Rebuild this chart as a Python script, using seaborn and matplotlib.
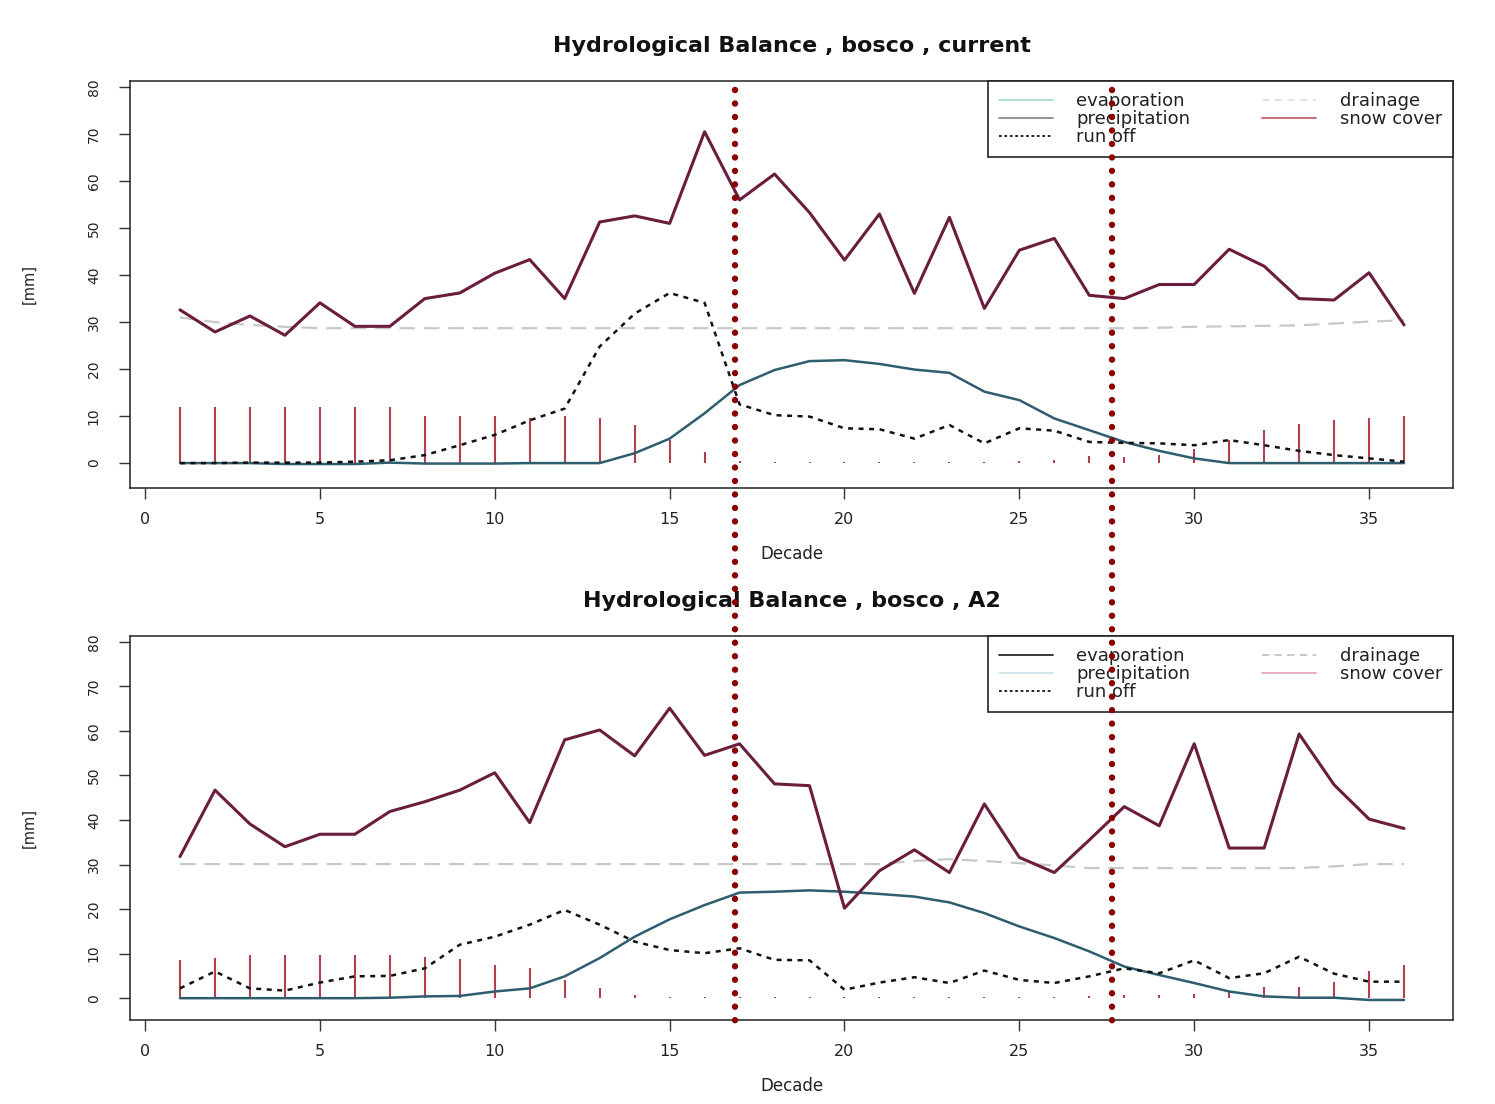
import matplotlib
matplotlib.use("Agg")
import matplotlib.pyplot as plt
import seaborn as sns
import pandas as pd
from matplotlib.lines import Line2D
from matplotlib.transforms import blended_transform_factory

# ---------------- data ----------------
decades = list(range(1, 37))
x_ticks = [0, 5, 10, 15, 20, 25, 30, 35]
y_ticks = [0, 10, 20, 30, 40, 50, 60, 70, 80]
series_names = ["evaporation", "precipitation", "run off", "drainage", "snow cover"]

cur_precip = [32.6, 27.9, 31.3, 27.2, 34.1, 29.1, 29.1, 35.0, 36.2, 40.4, 43.3, 35.0,
              51.3, 52.6, 51.0, 70.5, 56.0, 61.5, 53.3, 43.2, 53.0, 36.1, 52.3, 32.9,
              45.3, 47.8, 35.7, 35.0, 38.0, 38.0, 45.5, 41.9, 35.0, 34.7, 40.5, 29.4]
cur_evap = [0.0, 0.0, 0.0, -0.2, -0.2, -0.2, 0.1, -0.1, -0.1, -0.1, 0.0, 0.0,
            0.0, 2.1, 5.2, 10.6, 16.6, 19.8, 21.7, 21.9, 21.1, 19.9, 19.2, 15.2,
            13.4, 9.5, 7.0, 4.5, 2.6, 1.0, 0.0, 0.0, 0.0, 0.0, 0.0, 0.0]
cur_runoff = [0.0, 0.0, 0.1, 0.1, 0.1, 0.3, 0.6, 1.7, 3.8, 6.0, 9.1, 11.6,
              24.8, 31.8, 36.2, 34.1, 12.5, 10.2, 9.9, 7.4, 7.2, 5.2, 8.1, 4.2,
              7.4, 6.9, 4.5, 4.3, 4.2, 3.8, 4.9, 3.8, 2.6, 1.7, 1.0, 0.3]
cur_drainage = [31.0, 30.0, 29.4, 29.0, 28.7, 28.7, 28.7, 28.7, 28.7, 28.7, 28.7, 28.7,
                28.7, 28.7, 28.7, 28.7, 28.7, 28.7, 28.7, 28.7, 28.7, 28.7, 28.7, 28.7,
                28.7, 28.7, 28.7, 28.7, 28.8, 29.0, 29.1, 29.2, 29.3, 29.7, 30.1, 30.4]
cur_snow = [12.0, 12.0, 12.0, 12.0, 12.0, 12.0, 12.0, 10.0, 10.0, 10.0, 9.6, 10.0,
            9.6, 8.1, 4.9, 2.4, 0.4, 0.3, 0.3, 0.3, 0.3, 0.3, 0.3, 0.3,
            0.4, 0.6, 1.5, 1.3, 1.7, 3.1, 4.9, 7.0, 8.4, 9.1, 9.7, 10.0]

a2_precip = [31.8, 46.7, 39.1, 34.0, 36.8, 36.8, 41.9, 44.1, 46.7, 50.6, 39.4, 58.0,
             60.2, 54.4, 65.1, 54.5, 57.1, 48.1, 47.7, 20.2, 28.6, 33.3, 28.2, 43.6,
             31.6, 28.2, 35.5, 43.0, 38.7, 57.1, 33.7, 33.7, 59.3, 47.9, 40.2, 38.1]
a2_evap = [0.0, 0.0, 0.0, 0.0, 0.0, 0.0, 0.1, 0.4, 0.5, 1.5, 2.2, 4.9,
           9.0, 13.8, 17.7, 20.9, 23.7, 23.9, 24.2, 23.9, 23.4, 22.8, 21.5, 19.1,
           16.1, 13.5, 10.5, 7.1, 5.2, 3.4, 1.5, 0.4, 0.1, 0.1, -0.4, -0.4]
a2_runoff = [2.2, 6.0, 2.2, 1.7, 3.5, 4.9, 5.0, 6.7, 12.0, 13.8, 16.5, 19.8,
             16.5, 12.7, 10.8, 10.1, 11.2, 8.6, 8.5, 1.9, 3.5, 4.7, 3.4, 6.2,
             4.1, 3.4, 4.9, 6.7, 5.6, 8.5, 4.5, 5.6, 9.3, 5.5, 3.7, 3.7]
a2_drainage = [30.1, 30.1, 30.1, 30.1, 30.1, 30.1, 30.1, 30.1, 30.1, 30.1, 30.1, 30.1,
               30.1, 30.1, 30.1, 30.1, 30.1, 30.1, 30.1, 30.1, 30.1, 30.8, 31.2, 30.8,
               30.3, 29.8, 29.2, 29.2, 29.2, 29.2, 29.2, 29.2, 29.2, 29.6, 30.1, 30.1]
a2_snow = [8.6, 9.0, 9.7, 9.7, 9.7, 9.7, 9.7, 9.2, 8.8, 7.5, 6.7, 4.1,
           2.2, 0.7, 0.3, 0.3, 0.3, 0.3, 0.3, 0.3, 0.3, 0.3, 0.3, 0.3,
           0.3, 0.3, 0.5, 0.6, 0.8, 1.0, 1.5, 2.5, 2.6, 3.7, 6.0, 7.5]

# decades marked with the red dotted vertical guides
guide_decades = [16.87, 27.65]

# ---------------- style ----------------
sns.set_theme(style="white")
plt.rcParams['font.family'] = ['DejaVu Sans']

W, H = 1495, 1104
fig = plt.figure(figsize=(W / 100, H / 100), dpi=100)
fig.patch.set_facecolor("white")

ax1 = fig.add_axes([130 / W, 1 - 488 / H, 1323 / W, 407 / H])
ax2 = fig.add_axes([130 / W, 1 - 1020 / H, 1323 / W, 384 / H])

PRECIP_C = "#6a1d3c"
EVAP_C = "#2e5e6e"
SNOW_C = "#b0404c"
DRAIN_C = "#c8c8c8"


def draw_panel(ax, precip, evap, runoff, drainage, snow, title, ylim, leg_colors):
    ax.vlines(decades, 0, snow, color=SNOW_C, lw=1.5, zorder=2)
    sns.lineplot(x=decades, y=drainage, ax=ax, color=DRAIN_C, lw=1.6,
                 linestyle=(0, (7, 4)), zorder=2)
    sns.lineplot(x=decades, y=evap, ax=ax, color=EVAP_C, lw=1.8, zorder=3)
    sns.lineplot(x=decades, y=runoff, ax=ax, color="#111111", lw=1.8,
                 linestyle=(0, (2, 2.2)), zorder=3)
    sns.lineplot(x=decades, y=precip, ax=ax, color=PRECIP_C, lw=2.2, zorder=4)

    ax.set_xlim(-0.43, 37.4)
    ax.set_ylim(*ylim)
    ax.set_xticks(x_ticks)
    ax.set_yticks(y_ticks)
    ax.tick_params(bottom=True, left=True, direction="out", length=8, width=1,
                   color="#333333", labelsize=11.5, labelcolor="#222222")
    ax.tick_params(axis="x", pad=9)
    ax.tick_params(axis="y", pad=13, labelrotation=90, labelsize=10)
    for lab in ax.get_yticklabels():
        lab.set_va("center")
    for sp in ax.spines.values():
        sp.set_color("#222222")
        sp.set_linewidth(1.1)

    ax.set_title(title, fontsize=16, fontweight="bold", pad=21, color="#111111")
    ax.set_xlabel("Decade", fontsize=12, labelpad=13, color="#222222")
    ax.set_ylabel("[mm]", fontsize=10.5, color="#222222")
    ax.yaxis.set_label_coords(-0.071, 0.5)

    styles = ["-", "-", (0, (1.5, 1.5)), (0, (4, 3)), "-"]
    handles = [Line2D([0], [0], color=c, lw=1.3, linestyle=s)
               for c, s in zip(leg_colors, styles)]
    leg = ax.legend(handles, series_names, ncol=2, loc="upper right",
                    bbox_to_anchor=(858 / 1323, 0, 465 / 1323, 1.0),
                    mode="expand", borderaxespad=0, fontsize=13,
                    handlelength=3.0, handletextpad=1.3, labelspacing=0.0,
                    borderpad=0.6, columnspacing=2.0, fancybox=False,
                    framealpha=1, edgecolor="#222222")
    leg.get_frame().set_linewidth(1.2)
    for t in leg.get_texts():
        t.set_color("#222222")


draw_panel(ax1, cur_precip, cur_evap, cur_runoff, cur_drainage, cur_snow,
           "Hydrological Balance , bosco , current", (-5.3, 81.3),
           ["#a6dcd6", "#8a8a8a", "#111111", "#e2e2e2", "#c46070"])
draw_panel(ax2, a2_precip, a2_evap, a2_runoff, a2_drainage, a2_snow,
           "Hydrological Balance , bosco , A2", (-4.9, 81.3),
           ["#2a2a2a", "#cfe3ea", "#111111", "#c4c4c4", "#e6a8b8"])

# red dotted guide lines spanning both panels
trans = blended_transform_factory(ax1.transData, fig.transFigure)
for gx in guide_decades:
    fig.add_artist(Line2D([gx, gx], [1 - 90 / H, 1 - 1027 / H], transform=trans,
                          color="#8b0000", lw=4.6, linestyle=(0, (0.01, 2.1)),
                          dash_capstyle="round", solid_capstyle="round",
                          zorder=10, clip_on=False))

fig.savefig("out.png", dpi=100, facecolor="white")
